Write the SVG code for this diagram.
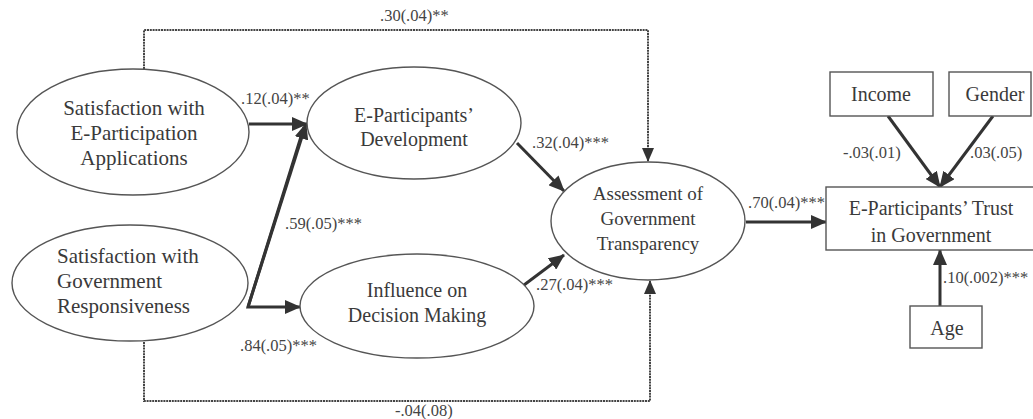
<svg xmlns="http://www.w3.org/2000/svg" width="1033" height="419" viewBox="0 0 1033 419">
  <style>
    .node { fill: #fff; stroke: #555; stroke-width: 1.4; }
    .t { font-family: "Liberation Serif", "Times New Roman", serif; fill: #3a3a3a; }
    .big { font-size: 21px; }
    .mid { font-size: 20px; }
    .sm { font-size: 19px; }
    .lbl { font-family: "Liberation Serif", "Times New Roman", serif; font-size: 16.5px; fill: #444; }
    .path { fill: none; stroke: #333; stroke-width: 3; }
    .dot { fill: none; stroke: #444; stroke-width: 2; stroke-dasharray: 2 0.8; }
  </style>
  <defs>
    <marker id="head" markerUnits="userSpaceOnUse" markerWidth="16" markerHeight="14" refX="15" refY="7" orient="auto">
      <path d="M0,0 L16,7 L0,14 Z" fill="#333"/>
    </marker>
    <marker id="headDot" markerUnits="userSpaceOnUse" markerWidth="14" markerHeight="12" refX="13" refY="6" orient="auto">
      <path d="M0,0 L14,6 L0,12 Z" fill="#333"/>
    </marker>
  </defs>
  <rect width="1033" height="419" fill="#fff"/>

  <!-- connectors -->
  <g id="connectors">
    <polyline class="dot" points="144,69 144,30 648,30 648,161" marker-end="url(#headDot)"/>
    <polyline class="dot" points="144,342 144,401 650,401 650,281" marker-end="url(#headDot)"/>
    <line class="path" x1="249" y1="124" x2="307" y2="124" marker-end="url(#head)"/>
    <polyline class="path" points="304,127 248,307 300,307" marker-end="url(#head)"/>
    <line class="path" x1="248" y1="307" x2="306" y2="124" marker-end="url(#head)"/>
    <line class="path" x1="517" y1="143" x2="564" y2="191" marker-end="url(#head)"/>
    <line class="path" x1="524" y1="285" x2="564" y2="255" marker-end="url(#head)"/>
    <line class="path" x1="746" y1="222" x2="826" y2="222" marker-end="url(#head)"/>
    <line class="path" x1="888" y1="116" x2="940" y2="187" marker-end="url(#head)"/>
    <line class="path" x1="993" y1="116" x2="940" y2="187" marker-end="url(#head)"/>
    <line class="path" x1="940" y1="306" x2="940" y2="250" marker-end="url(#head)"/>
    <text class="lbl" x="380" y="21">.30(.04)**</text>
    <text class="lbl" x="241" y="104">.12(.04)**</text>
    <text class="lbl" x="285" y="229">.59(.05)***</text>
    <text class="lbl" x="240" y="351">.84(.05)***</text>
    <text class="lbl" x="532" y="148">.32(.04)***</text>
    <text class="lbl" x="536" y="290">.27(.04)***</text>
    <text class="lbl" x="748" y="208">.70(.04)***</text>
    <text class="lbl" x="843" y="158">-.03(.01)</text>
    <text class="lbl" x="970" y="158">.03(.05)</text>
    <text class="lbl" x="943" y="283">.10(.002)***</text>
    <text class="lbl" x="395" y="416">-.04(.08)</text>
  </g>

  <g id="sat-eparticipation">
    <ellipse class="node" cx="133" cy="132" rx="116" ry="63"/>
    <text class="t big" text-anchor="middle"><tspan x="134" y="115">Satisfaction with</tspan><tspan x="134" y="140">E-Participation</tspan><tspan x="134" y="165">Applications</tspan></text>
  </g>

  <g id="sat-responsiveness">
    <ellipse class="node" cx="130" cy="283" rx="118" ry="58"/>
    <text class="t big"><tspan x="57" y="263">Satisfaction with</tspan><tspan x="57" y="288">Government</tspan><tspan x="57" y="313">Responsiveness</tspan></text>
  </g>

  <g id="development">
    <ellipse class="node" cx="414" cy="123" rx="107" ry="56"/>
    <text class="t mid" text-anchor="middle"><tspan x="414" y="122">E-Participants’</tspan><tspan x="414" y="146">Development</tspan></text>
  </g>

  <g id="influence">
    <ellipse class="node" cx="417" cy="306" rx="117" ry="52"/>
    <text class="t mid" text-anchor="middle"><tspan x="417" y="297">Influence on</tspan><tspan x="417" y="322">Decision Making</tspan></text>
  </g>

  <g id="transparency">
    <ellipse class="node" cx="648" cy="221" rx="97" ry="59"/>
    <text class="t sm" text-anchor="middle"><tspan x="648" y="200">Assessment of</tspan><tspan x="648" y="225">Government</tspan><tspan x="648" y="250">Transparency</tspan></text>
  </g>

  <g id="trust">
    <rect class="node" x="826" y="187" width="220" height="63"/>
    <text class="t mid" text-anchor="middle"><tspan x="931" y="215">E-Participants’ Trust</tspan><tspan x="931" y="242">in Government</tspan></text>
  </g>

  <g id="income">
    <rect class="node" x="830" y="72" width="103" height="44"/>
    <text class="t mid" x="881" y="101" text-anchor="middle">Income</text>
  </g>

  <g id="gender">
    <rect class="node" x="949" y="72" width="82" height="44"/>
    <text class="t mid" x="995" y="101" text-anchor="middle">Gender</text>
  </g>

  <g id="age">
    <rect class="node" x="910" y="306" width="72" height="42"/>
    <text class="t mid" x="947" y="335" text-anchor="middle">Age</text>
  </g>
</svg>
